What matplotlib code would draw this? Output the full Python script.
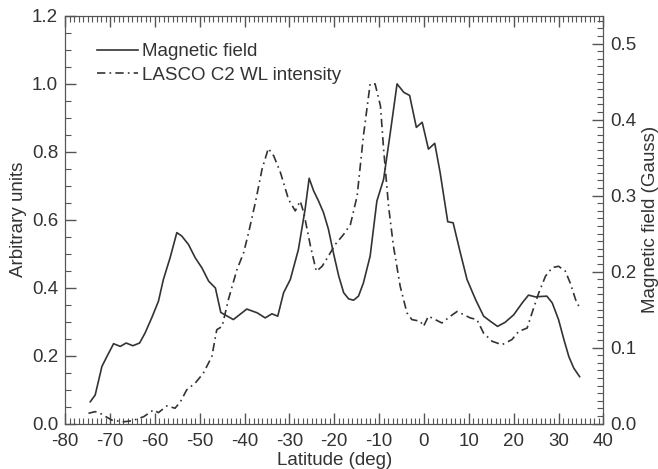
import numpy as np
import matplotlib
matplotlib.use('Agg')
import matplotlib.pyplot as plt
from matplotlib.ticker import MultipleLocator

plt.rcParams['font.family'] = ['Liberation Sans', 'DejaVu Sans']
plt.rcParams['axes.unicode_minus'] = False

# magnetic field (normalised)
lat_mag = [-74.4, -73.3, -71.8, -70.7, -69.2, -67.7, -66.4, -64.9, -63.4, -62.2,
           -60.7, -59.2, -58.1, -56.6, -55.1, -54.0, -52.5, -51.0, -49.5, -48.0,
           -46.5, -45.3, -42.5, -39.5, -37.2, -35.4, -33.9, -32.6, -31.3, -29.8,
           -28.0, -26.5, -25.6, -24.6, -23.5, -22.4, -21.3, -20.2, -19.0, -17.9,
           -16.8, -15.7, -14.6, -13.5, -12.0, -10.5, -9.0, -7.5, -6.0, -4.5,
           -3.2, -1.7, -0.4, 1.0, 2.4, 3.6, 5.3, 6.5, 8.1, 9.6,
           11.5, 13.3, 14.8, 16.4, 18.1, 20.0, 21.9, 23.3, 24.8, 27.4,
           28.6, 30.0, 31.2, 32.3, 33.4, 34.7]
mag = [0.064, 0.084, 0.168, 0.197, 0.235, 0.227, 0.237, 0.229, 0.237, 0.266,
       0.311, 0.360, 0.424, 0.488, 0.562, 0.552, 0.527, 0.488, 0.458, 0.419,
       0.399, 0.327, 0.306, 0.337, 0.326, 0.311, 0.323, 0.316, 0.385, 0.424,
       0.512, 0.631, 0.722, 0.685, 0.655, 0.621, 0.572, 0.503, 0.434, 0.385,
       0.367, 0.363, 0.375, 0.414, 0.493, 0.655, 0.719, 0.857, 1.0, 0.975,
       0.966, 0.872, 0.887, 0.808, 0.825, 0.739, 0.594, 0.591, 0.503, 0.424,
       0.365, 0.316, 0.301, 0.286, 0.298, 0.320, 0.355, 0.378, 0.373, 0.375,
       0.355, 0.306, 0.247, 0.197, 0.163, 0.138]

# LASCO C2 white light intensity
lat_wl = [-74.8, -73.3, -72.2, -69.6, -67.0, -65.1, -62.5, -60.3, -59.2, -57.3,
          -55.5, -54.3, -52.9, -51.0, -49.2, -47.3, -46.2, -45.0, -43.6, -41.7,
          -40.2, -39.1, -37.6, -36.1, -34.7, -33.5, -32.0, -30.2, -28.7, -27.6,
          -26.8, -25.3, -24.0, -22.7, -21.3, -19.8, -17.9, -16.4, -14.9, -13.5,
          -12.0, -10.9, -9.7, -9.0, -7.9, -6.8, -5.3, -3.8, -2.7, -0.8,
          -0.1, 1.0, 2.5, 4.0, 5.9, 7.4, 8.8, 10.3, 11.8, 13.3,
          15.2, 17.4, 19.6, 21.1, 23.0, 24.1, 25.6, 27.1, 28.6, 30.0,
          31.5, 32.6, 33.8, 34.9]
wl = [0.030, 0.035, 0.030, 0.010, 0.005, 0.008, 0.020, 0.040, 0.032, 0.052,
      0.045, 0.064, 0.099, 0.119, 0.148, 0.197, 0.276, 0.286, 0.365, 0.453,
      0.503, 0.562, 0.650, 0.749, 0.810, 0.788, 0.739, 0.660, 0.626, 0.655,
      0.621, 0.522, 0.448, 0.463, 0.493, 0.527, 0.557, 0.586, 0.670, 0.847,
      1.0, 1.0, 0.935, 0.808, 0.640, 0.522, 0.404, 0.326, 0.306, 0.301,
      0.286, 0.316, 0.306, 0.296, 0.316, 0.330, 0.321, 0.311, 0.306, 0.266,
      0.242, 0.232, 0.247, 0.271, 0.281, 0.326, 0.385, 0.434, 0.459, 0.463,
      0.449, 0.414, 0.365, 0.335]

gauss_per_unit = 0.447
fs = 13.5

fig = plt.figure(figsize=(6.58, 4.69), dpi=100)
ax = fig.add_axes([0.099, 0.097, 0.818, 0.869])

ink = '#333333'
ax.plot(lat_mag, mag, color=ink, lw=1.2, label='Magnetic field')
ax.plot(lat_wl, wl, color=ink, lw=1.2, dashes=(5, 2.5, 1, 2.5),
        label='LASCO C2 WL intensity')

ax.set_xlim(-80, 40)
ax.set_ylim(0, 1.2)
ax.xaxis.set_major_locator(MultipleLocator(10))
ax.xaxis.set_minor_locator(MultipleLocator(1))
ax.yaxis.set_major_locator(MultipleLocator(0.2))
ax.yaxis.set_minor_locator(MultipleLocator(0.05))
ax.yaxis.set_major_formatter(plt.FormatStrFormatter('%.1f'))
ax.tick_params(which='both', direction='in', top=True, colors='#555555',
               labelcolor=ink, labelsize=fs)
ax.tick_params(which='major', length=8, width=1)
ax.tick_params(which='minor', length=4, width=0.8)
ax.tick_params(axis='x', pad=7)
ax.tick_params(axis='y', pad=5)
ax.set_xlabel('Latitude (deg)', fontsize=fs, color=ink, labelpad=1)
ax.set_ylabel('Arbitrary units', fontsize=fs, color=ink, labelpad=3.5)
for s in ax.spines.values():
    s.set_color('#555555')

ax2 = ax.twinx()
ax2.set_ylim(0, 1.2 * gauss_per_unit)
ax2.yaxis.set_major_locator(MultipleLocator(0.1))
ax2.yaxis.set_minor_locator(MultipleLocator(0.01))
ax2.yaxis.set_major_formatter(plt.FormatStrFormatter('%.1f'))
ax2.tick_params(which='both', direction='in', colors='#555555',
                labelcolor=ink, labelsize=fs, pad=5)
ax2.tick_params(which='major', length=8, width=1)
ax2.tick_params(which='minor', length=4, width=0.8)
ax2.set_ylabel('Magnetic field (Gauss)', fontsize=fs, color=ink, labelpad=4)
for s in ax2.spines.values():
    s.set_color('#555555')

ax.legend(loc='upper left', bbox_to_anchor=(0.028, 0.975), frameon=False,
          fontsize=fs, handlelength=2.2, handletextpad=0.2,
          labelspacing=0.35, labelcolor=ink)

fig.savefig('out.png', dpi=100)
